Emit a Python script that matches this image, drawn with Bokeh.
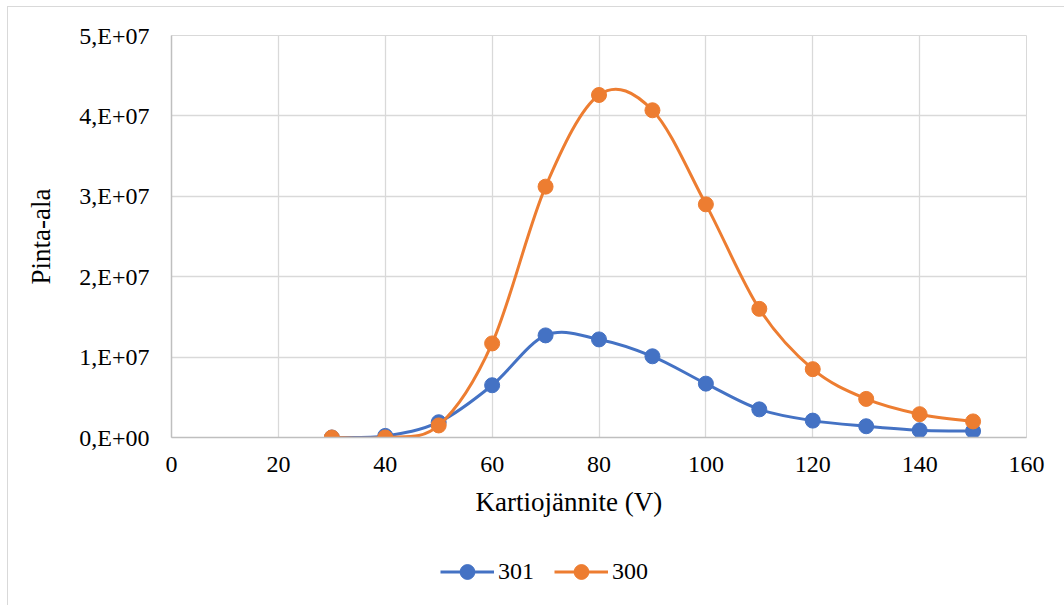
from bokeh.plotting import figure
from bokeh.models import Range1d, FixedTicker, Legend, LegendItem, Title
from bokeh.layouts import column
from bokeh.embed import file_html
from bokeh.resources import INLINE

# ---- data ----
voltage = [30, 40, 50, 60, 70, 80, 90, 100, 110, 120, 130, 140, 150]
s301 = [0.0, 0.02e7, 0.19e7, 0.65e7, 1.27e7, 1.22e7, 1.01e7, 0.67e7, 0.35e7, 0.21e7, 0.14e7, 0.09e7, 0.08e7]
s300 = [0.0, 0.0, 0.15e7, 1.17e7, 3.12e7, 4.26e7, 4.07e7, 2.90e7, 1.60e7, 0.85e7, 0.48e7, 0.29e7, 0.20e7]
series_names = ["301", "300"]
series_colors = ["#4472C4", "#ED7D31"]
x_ticks = [0, 20, 40, 60, 80, 100, 120, 140, 160]
y_ticks = [0, 1e7, 2e7, 3e7, 4e7, 5e7]
y_tick_labels = ["0,E+00", "1,E+07", "2,E+07", "3,E+07", "4,E+07", "5,E+07"]
x_title = "Kartiojännite (V)"
y_title = "Pinta-ala"

FONT = "Liberation Serif"


def smooth_segments(xs, ys):
    """Bezier control points (Catmull-Rom style smoothing, like Excel's smoothed line)."""
    n = len(xs)
    seg = dict(x0=[], y0=[], x1=[], y1=[], cx0=[], cy0=[], cx1=[], cy1=[])
    for i in range(n - 1):
        ip = max(i - 1, 0)
        inn = min(i + 2, n - 1)
        seg["x0"].append(xs[i]); seg["y0"].append(ys[i])
        seg["x1"].append(xs[i + 1]); seg["y1"].append(ys[i + 1])
        seg["cx0"].append(xs[i] + (xs[i + 1] - xs[ip]) / 6.0)
        seg["cy0"].append(ys[i] + (ys[i + 1] - ys[ip]) / 6.0)
        seg["cx1"].append(xs[i + 1] - (xs[inn] - xs[i]) / 6.0)
        seg["cy1"].append(ys[i + 1] - (ys[inn] - ys[i]) / 6.0)
    return seg


# ---- main chart ----
p = figure(width=1057, height=540, output_backend="svg", toolbar_location=None,
           x_range=Range1d(0, 160), y_range=Range1d(0, 5e7),
           min_border_left=163, min_border_right=39, min_border_top=28, min_border_bottom=110)
p.margin = (6, 0, 0, 7)
p.styles = {"border-left": "1px solid #d9d9d9", "border-top": "1px solid #d9d9d9"}

p.background_fill_color = "white"
p.border_fill_color = "white"
p.outline_line_color = "#d9d9d9"
p.outline_line_width = 1

for g in (p.xgrid, p.ygrid):
    g.grid_line_color = "#d9d9d9"
    g.grid_line_width = 1.3

xax = p.xaxis[0]
yax = p.yaxis[0]
xax.ticker = FixedTicker(ticks=x_ticks)
yax.ticker = FixedTicker(ticks=y_ticks)
yax.major_label_overrides = {float(v): s for v, s in zip(y_ticks, y_tick_labels)}

for ax in (xax, yax):
    ax.axis_line_color = "#bfbfbf"
    ax.axis_line_width = 1.5
    ax.major_tick_line_color = None
    ax.minor_tick_line_color = None
    ax.major_tick_out = 0
    ax.major_tick_in = 0
    ax.major_label_text_font = FONT
    ax.major_label_text_font_size = "24px"
    ax.major_label_text_color = "#000000"

xax.major_label_standoff = 19
yax.major_label_standoff = 22
yax.axis_label = y_title
yax.axis_label_text_font = FONT
yax.axis_label_text_font_size = "27px"
yax.axis_label_text_font_style = "normal"
yax.axis_label_text_color = "#000000"
yax.axis_label_standoff = 20

xt = Title(text=x_title, align="left", offset=304, standoff=21,
           text_font=FONT, text_font_size="27px", text_font_style="normal",
           text_color="#000000")
p.add_layout(xt, "below")

for name, col, ys in zip(series_names, series_colors, [s301, s300]):
    seg = smooth_segments(voltage, ys)
    p.bezier(x0="x0", y0="y0", x1="x1", y1="y1", cx0="cx0", cy0="cy0",
             cx1="cx1", cy1="cy1", source=seg, line_color=col, line_width=3)
    p.scatter(voltage, ys, size=15, marker="circle", fill_color=col, line_color=col)

# ---- legend strip (below the chart) ----
pl = figure(width=1057, height=59, output_backend="svg", toolbar_location=None,
            x_axis_type=None, y_axis_type=None,
            x_range=Range1d(0, 160), y_range=Range1d(0, 5e7),
            min_border_left=0, min_border_right=0, min_border_top=0, min_border_bottom=0)
pl.margin = (0, 0, 0, 7)
pl.styles = {"border-left": "1px solid #d9d9d9"}
pl.outline_line_color = None
pl.background_fill_color = "white"
pl.border_fill_color = "white"

items = []
for name, col, ys in zip(series_names, series_colors, [s301, s300]):
    r_line = pl.line(voltage, ys, line_color=col, line_width=3, visible=False)
    r_pts = pl.scatter(voltage, ys, size=15, marker="circle", fill_color=col,
                       line_color=col, visible=False)
    items.append(LegendItem(label=name, renderers=[r_line, r_pts]))

legend = Legend(items=items, location=(269, 15), orientation="horizontal",
                glyph_width=54, glyph_height=37, label_height=24, label_standoff=4,
                spacing=20, padding=0, margin=0, border_line_color=None,
                background_fill_alpha=0)
legend.label_text_font = FONT
legend.label_text_font_size = "24px"
legend.label_text_font_style = "normal"
legend.label_text_color = "#000000"
pl.add_layout(legend)

layout = column(p, pl, spacing=0)
open("out.html", "w").write(file_html(layout, INLINE))
